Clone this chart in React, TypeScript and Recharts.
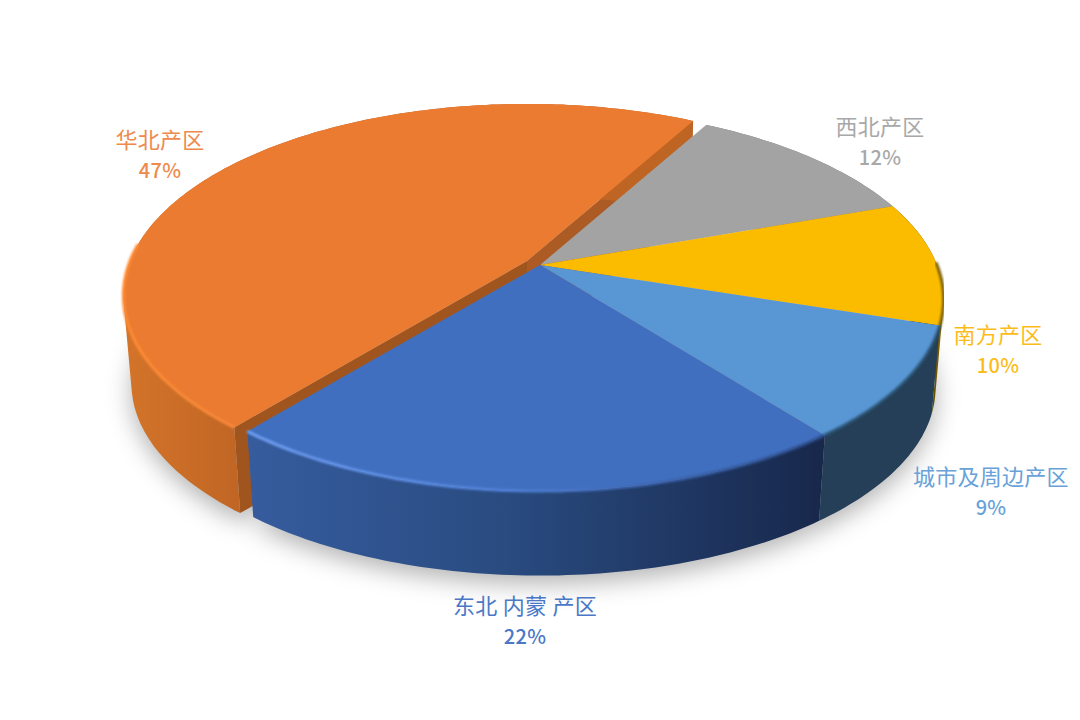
import { PieChart, Pie } from "recharts";

const names = ["华北产区", "西北产区", "南方产区", "城市及周边产区", "东北 内蒙 产区"];
// estimated unrounded shares, labels show them rounded
const shares = [47.1, 11.5, 10.45, 9.45, 21.5];
const topColors = ["#EA7B30", "#A3A3A3", "#FBBC00", "#5896D4", "#416FBF"];
const textColors = ["#EE8A4C", "#A8A8A8", "#FBBC1A", "#69A2D9", "#4A78C6"];
const wallFills = ["url(#wallOrange)", "#777777", "url(#wallYellow)", "#243F57", "url(#wallBlue)"];
const rimColors = ["url(#rimOrange)", "none", "#7a6000", "#2c5273", "url(#rimBlue)"];
const rimCutoffs = [0.1, -1, 0.02, 0.35, 0.35];

const data = names.map((name, i) => ({ name, value: shares[i] }));

// pull-out of the orange slice, px
const explode: Record<string, [number, number]> = { "华北产区": [-13, -4] };
const labelAt: Record<string, [number, number]> = {
  "华北产区": [160, 148],
  "西北产区": [880, 135],
  "南方产区": [998, 343],
  "城市及周边产区": [991, 485],
  "东北 内蒙 产区": [525, 614],
};

// fake perspective for the disc
const TILT = 0.467;
const PERSP = 0.18;
const DROP = 89;
const BOTTOM_SCALE = 0.98;

function project(angle: number, r: number, cx: number, cy: number, scale = 1) {
  const rad = ((90 - angle) * Math.PI) / 180;
  const u = Math.sin(rad);
  const v = Math.cos(rad);
  const w = 1 + PERSP * v;
  return [cx + (scale * r * u) / w, cy - (scale * r * TILT * v) / w, v];
}

function arcPoints(start: number, end: number, r: number, cx: number, cy: number, scale = 1) {
  const n = Math.max(2, Math.ceil(Math.abs(end - start)));
  const pts = [];
  for (let i = 0; i <= n; i++) {
    pts.push(project(start + ((end - start) * i) / n, r, cx, cy, scale));
  }
  return pts;
}

const toPath = (pts: number[][], close = true) =>
  pts.map((p, i) => `${i ? "L" : "M"}${p[0].toFixed(1)} ${p[1].toFixed(1)}`).join(" ") + (close ? " Z" : "");

// side wall as small quads, all wound the same way, so the silhouette stays full
function wallPath(top: number[][], bottom: number[][]) {
  const parts = [];
  for (let i = 0; i < top.length - 1; i++) {
    const quad = [top[i], top[i + 1], bottom[i + 1], bottom[i]];
    let area = 0;
    quad.forEach((p, j) => {
      const q = quad[(j + 1) % 4];
      area += p[0] * q[1] - q[0] * p[1];
    });
    parts.push(toPath(area < 0 ? quad.reverse() : quad));
  }
  return parts.join(" ");
}

function Slice(props: any) {
  const { startAngle, endAngle, outerRadius, name } = props;
  const i = names.indexOf(name);
  const [dx, dy] = explode[name] || [0, 0];
  const cx = props.cx + dx;
  const cy = props.cy + dy;
  const top = arcPoints(startAngle, endAngle, outerRadius, cx, cy);
  const bottom = arcPoints(startAngle, endAngle, outerRadius, cx, cy + DROP, BOTTOM_SCALE);
  const face = toPath([[cx, cy], ...top]);
  const rim = top.filter((p) => p[2] < rimCutoffs[i]);
  const apexLow = [cx, cy + DROP];
  const last = top.length - 1;
  return (
    <g>
      {explode[name] && (
        <>
          <path d={toPath([[cx, cy], top[0], bottom[0], apexLow])} fill="#A0551F" />
          <path d={toPath([[cx, cy], top[last], bottom[last], apexLow])} fill="#AB5B23" />
        </>
      )}
      <path d={wallPath(top, bottom)} fill={wallFills[i]} />
      <path d={face} fill={topColors[i]} />
      {rimColors[i] !== "none" && rim.length > 1 && (
        <path d={toPath(rim, false)} fill="none" stroke={rimColors[i]} strokeWidth={3} filter="url(#soft)" />
      )}
    </g>
  );
}

function SliceShadow(props: any) {
  const { startAngle, endAngle, outerRadius, name } = props;
  const [dx, dy] = explode[name] || [0, 0];
  const cx = props.cx + dx;
  const cy = props.cy + dy + DROP + 8;
  return (
    <path
      d={toPath([[cx, cy], ...arcPoints(startAngle, endAngle, outerRadius, cx, cy, BOTTOM_SCALE)])}
      fill="#000"
      fillOpacity={0.3}
      filter="url(#shadowBlur)"
    />
  );
}

function SliceLabel(props: any) {
  const { name, value } = props;
  const i = names.indexOf(name);
  const [x, y] = labelAt[name];
  return (
    <text
      x={x}
      y={y}
      textAnchor="middle"
      fill={textColors[i]}
      style={{ fontFamily: '"Noto Sans CJK SC", sans-serif', fontSize: 22, letterSpacing: 0.25 }}
    >
      <tspan x={x}>{name}</tspan>
      <tspan x={x} dy={30} style={{ fontSize: 20, fontWeight: 500 }}>
        {Math.round(value)}%
      </tspan>
    </text>
  );
}

export default function App() {
  return (
    <div style={{ position: "absolute", left: 0, top: 0, width: 1080, height: 720, background: "#fff" }}>
      <PieChart width={1080} height={720} margin={{ top: 0, right: 0, bottom: 0, left: 0 }}>
        <defs>
          <filter id="shadowBlur" x="-20%" y="-20%" width="140%" height="140%">
            <feGaussianBlur stdDeviation="12" />
          </filter>
          <filter id="soft" x="-5%" y="-5%" width="110%" height="110%">
            <feGaussianBlur stdDeviation="1" />
          </filter>
          <linearGradient id="wallOrange" gradientUnits="userSpaceOnUse" x1="123" y1="0" x2="245" y2="0">
            <stop offset="0%" stopColor="#D4742A" />
            <stop offset="100%" stopColor="#BF6524" />
          </linearGradient>
          <linearGradient id="wallYellow" gradientUnits="userSpaceOnUse" x1="925" y1="0" x2="943" y2="0">
            <stop offset="0%" stopColor="#3f3200" />
            <stop offset="100%" stopColor="#8a6c00" />
          </linearGradient>
          <linearGradient id="wallBlue" gradientUnits="userSpaceOnUse" x1="250" y1="0" x2="820" y2="0">
            <stop offset="0%" stopColor="#365C9E" />
            <stop offset="45%" stopColor="#294B80" />
            <stop offset="100%" stopColor="#18284C" />
          </linearGradient>
          <linearGradient id="rimOrange" gradientUnits="userSpaceOnUse" x1="125" y1="0" x2="240" y2="0">
            <stop offset="0%" stopColor="#FF8B35" />
            <stop offset="100%" stopColor="#F6883A" />
          </linearGradient>
          <linearGradient id="rimBlue" gradientUnits="userSpaceOnUse" x1="250" y1="0" x2="820" y2="0">
            <stop offset="0%" stopColor="#6FA0F5" />
            <stop offset="45%" stopColor="#4F7FD6" />
            <stop offset="100%" stopColor="#2A4A86" />
          </linearGradient>
        </defs>
        <Pie
          data={data}
          dataKey="value"
          nameKey="name"
          cx={540}
          cy={265}
          outerRadius={397}
          startAngle={-129.4}
          endAngle={-489.4}
          stroke="none"
          isAnimationActive={false}
          shape={SliceShadow}
        />
        <Pie
          data={data}
          dataKey="value"
          nameKey="name"
          cx={540}
          cy={265}
          outerRadius={397}
          startAngle={-129.4}
          endAngle={-489.4}
          stroke="none"
          isAnimationActive={false}
          shape={Slice}
          label={SliceLabel}
          labelLine={false}
        />
      </PieChart>
    </div>
  );
}
